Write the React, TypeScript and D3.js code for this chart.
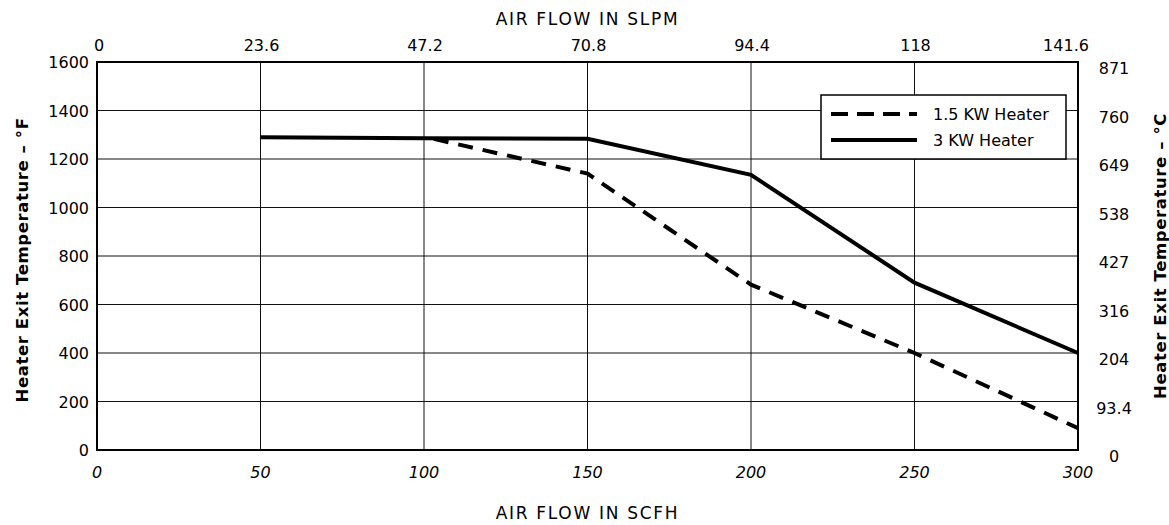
import * as d3 from "d3";
import React, { useEffect, useRef } from "react";

// Datos
const scfhTicks = [0, 50, 100, 150, 200, 250, 300];
const slpmLabels = ["0", "23.6", "47.2", "70.8", "94.4", "118", "141.6"];
const fTicks = [0, 200, 400, 600, 800, 1000, 1200, 1400, 1600];
const cLabels = ["0", "93.4", "204", "316", "427", "538", "649", "760", "871"];

const flow3kw = [50, 100, 150, 200, 250, 300];
const temp3kw = [1290, 1286, 1283, 1135, 690, 400];

const flow15kw = [103, 150, 200, 250, 300];
const temp15kw = [1283, 1140, 682, 400, 90];

const FONT = "'DejaVu Sans', Verdana, sans-serif";

function App() {
  const ref = useRef<SVGSVGElement>(null);

  useEffect(() => {
    const svg = d3.select(ref.current);
    svg.selectAll("*").remove();

    const width = 1169;
    const height = 525;
    const margin = { top: 62, right: 91, bottom: 75, left: 97 };

    const x = d3.scaleLinear().domain([0, 300]).range([margin.left, width - margin.right]);
    const y = d3.scaleLinear().domain([0, 1600]).range([height - margin.bottom, margin.top]);

    svg.append("rect").attr("width", width).attr("height", height).attr("fill", "#fff");

    // Rejilla
    const grid = svg.append("g").attr("stroke", "#111").attr("stroke-width", 1);
    grid
      .selectAll("line.v")
      .data(scfhTicks)
      .enter()
      .append("line")
      .attr("x1", (d) => x(d))
      .attr("x2", (d) => x(d))
      .attr("y1", y(0))
      .attr("y2", y(1600));
    grid
      .selectAll("line.h")
      .data(fTicks)
      .enter()
      .append("line")
      .attr("x1", x(0))
      .attr("x2", x(300))
      .attr("y1", (d) => y(d))
      .attr("y2", (d) => y(d));

    // Borde
    svg
      .append("rect")
      .attr("x", x(0))
      .attr("y", y(1600))
      .attr("width", x(300) - x(0))
      .attr("height", y(0) - y(1600))
      .attr("fill", "none")
      .attr("stroke", "#000")
      .attr("stroke-width", 2);

    const text = svg.append("g").attr("font-family", FONT).attr("font-size", 16).attr("fill", "#000");

    // Eje inferior (SCFH)
    text
      .selectAll("text.b")
      .data(scfhTicks)
      .enter()
      .append("text")
      .attr("x", (d) => x(d))
      .attr("y", y(0) + 28)
      .attr("text-anchor", "middle")
      .attr("font-style", "italic")
      .text((d) => d);

    // Eje superior (SLPM)
    text
      .selectAll("text.t")
      .data(scfhTicks)
      .enter()
      .append("text")
      .attr("x", (d, i) => x(d) + (i === 0 ? 2 : i === scfhTicks.length - 1 ? -12 : 1))
      .attr("y", y(1600) - 11)
      .attr("text-anchor", "middle")
      .text((d, i) => slpmLabels[i]);

    // Eje izquierdo (°F)
    text
      .selectAll("text.l")
      .data(fTicks)
      .enter()
      .append("text")
      .attr("x", x(0) - 8)
      .attr("y", (d) => y(d) + 6)
      .attr("text-anchor", "end")
      .text((d) => d);

    // Eje derecho (°C)
    text
      .selectAll("text.r")
      .data(fTicks)
      .enter()
      .append("text")
      .attr("x", x(300) + 36)
      .attr("y", (d) => y(d) + 12)
      .attr("text-anchor", "middle")
      .text((d, i) => cLabels[i]);

    // Títulos
    text
      .append("text")
      .attr("x", x(150))
      .attr("y", 25)
      .attr("text-anchor", "middle")
      .attr("font-size", 17)
      .attr("letter-spacing", 1.7)
      .text("AIR FLOW IN SLPM");
    text
      .append("text")
      .attr("x", x(150))
      .attr("y", 519)
      .attr("text-anchor", "middle")
      .attr("font-size", 17)
      .attr("letter-spacing", 1.7)
      .text("AIR FLOW IN SCFH");
    text
      .append("text")
      .attr("transform", `translate(28, ${y(800) + 4}) rotate(-90)`)
      .attr("text-anchor", "middle")
      .attr("font-weight", "bold")
      .attr("font-size", 16.5)
      .attr("letter-spacing", 0.6)
      .text("Heater Exit Temperature – °F");
    text
      .append("text")
      .attr("transform", `translate(1166, ${y(800)}) rotate(-90)`)
      .attr("text-anchor", "middle")
      .attr("font-weight", "bold")
      .attr("font-size", 16.5)
      .attr("letter-spacing", 0.6)
      .text("Heater Exit Temperature – °C");

    // Curvas
    const line = d3
      .line<[number, number]>()
      .x((d) => x(d[0]))
      .y((d) => y(d[1]));

    svg
      .append("path")
      .datum(flow3kw.map((f, i) => [f, temp3kw[i]] as [number, number]))
      .attr("d", line)
      .attr("fill", "none")
      .attr("stroke", "#000")
      .attr("stroke-width", 4);

    svg
      .append("path")
      .datum(flow15kw.map((f, i) => [f, temp15kw[i]] as [number, number]))
      .attr("d", line)
      .attr("fill", "none")
      .attr("stroke", "#000")
      .attr("stroke-width", 4)
      .attr("stroke-dasharray", "15,10");

    // Leyenda
    const lg = svg.append("g").attr("transform", "translate(821, 95)");
    lg.append("rect")
      .attr("width", 245)
      .attr("height", 64)
      .attr("fill", "#fff")
      .attr("stroke", "#000")
      .attr("stroke-width", 1.5);
    lg.append("line")
      .attr("x1", 10)
      .attr("x2", 96)
      .attr("y1", 19)
      .attr("y2", 19)
      .attr("stroke", "#000")
      .attr("stroke-width", 4)
      .attr("stroke-dasharray", "17,9");
    lg.append("line")
      .attr("x1", 10)
      .attr("x2", 96)
      .attr("y1", 45)
      .attr("y2", 45)
      .attr("stroke", "#000")
      .attr("stroke-width", 4);
    lg.append("text")
      .attr("x", 112)
      .attr("y", 25)
      .attr("font-family", FONT)
      .attr("font-size", 16)
      .text("1.5 KW Heater");
    lg.append("text")
      .attr("x", 112)
      .attr("y", 51)
      .attr("font-family", FONT)
      .attr("font-size", 16)
      .text("3 KW Heater");
  }, []);

  return (
    <svg
      ref={ref}
      width={1169}
      height={525}
      style={{ position: "absolute", left: 0, top: 0, display: "block" }}
    />
  );
}

export default App;
